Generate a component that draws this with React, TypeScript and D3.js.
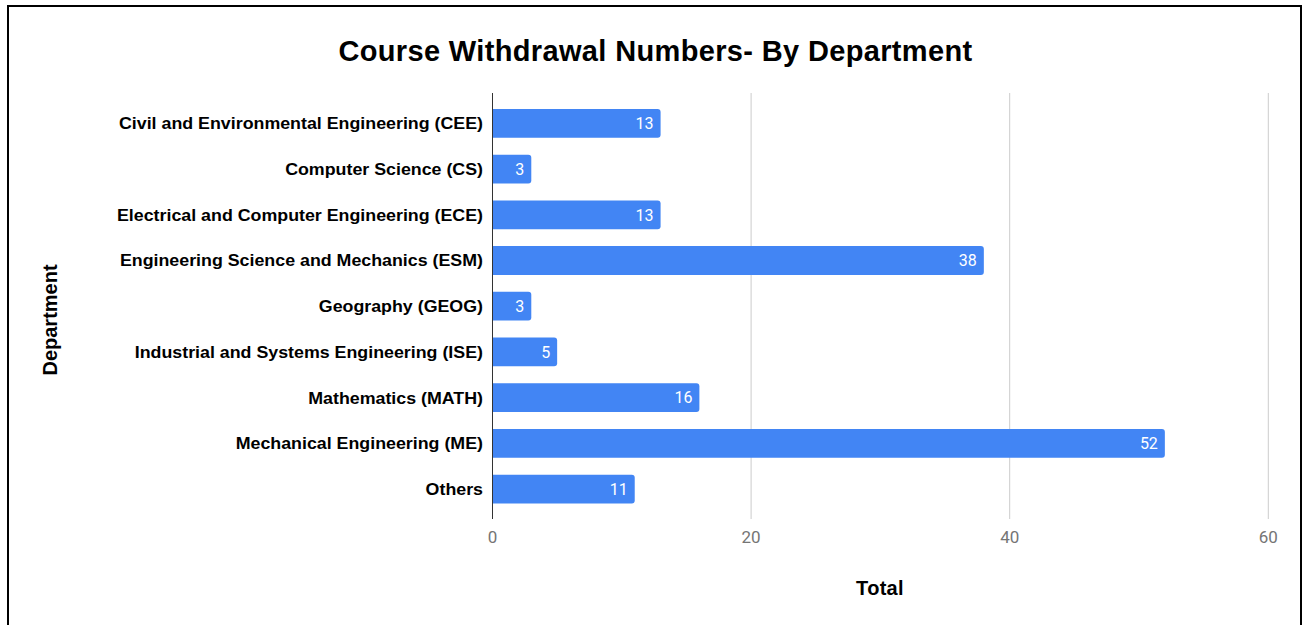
import React from "react";
import * as d3 from "d3";

const categories = [
  "Civil and Environmental Engineering (CEE)",
  "Computer Science (CS)",
  "Electrical and Computer Engineering (ECE)",
  "Engineering Science and Mechanics (ESM)",
  "Geography (GEOG)",
  "Industrial and Systems Engineering (ISE)",
  "Mathematics (MATH)",
  "Mechanical Engineering (ME)",
  "Others",
];
const totals = [13, 3, 13, 38, 3, 5, 16, 52, 11];
const xTicks = [0, 20, 40, 60];

const W = 1304;
const H = 625;

export default function App() {
  const x = d3.scaleLinear().domain([0, 60]).range([492.5, 1268.3]);
  const y = d3.scaleBand<string>().domain(categories).range([100.5, 511.9]).paddingInner(0.37).paddingOuter(0.185);
  const r = 3;
  const barPath = (v: number, top: number, h: number) => {
    const x0 = x(0);
    const x1 = x(v);
    return `M${x0},${top}H${x1 - r}Q${x1},${top} ${x1},${top + r}V${top + h - r}Q${x1},${top + h} ${x1 - r},${top + h}H${x0}Z`;
  };
  return (
    <svg width={W} height={H} style={{ position: "absolute", left: 0, top: 0, display: "block" }} fontFamily="Arial, 'Liberation Sans', sans-serif">
      <rect x={0} y={0} width={W} height={H} fill="#fff" />
      <rect x={8} y={6} width={1293} height={H + 10} fill="#fff" stroke="#000" strokeWidth={2} />
      <text x={655.5} y={61} textAnchor="middle" fontSize={29} fontWeight="bold" fill="#000" letterSpacing={0.35}>
        Course Withdrawal Numbers- By Department
      </text>
      {xTicks.filter((t) => t !== 0).map((t) => (
        <line key={t} x1={x(t)} x2={x(t)} y1={93} y2={519} stroke="#cccccc" strokeWidth={1} />
      ))}
      {categories.map((c, i) => {
        const top = y(c)!;
        const h = y.bandwidth();
        return (
          <g key={c}>
            <path d={barPath(totals[i], top, h)} fill="#4285F4" />
            <text x={x(totals[i]) - 7} y={top + h / 2} dy="0.36em" textAnchor="end" fontSize={16} fill="#fff" fontFamily="Roboto, Arial, sans-serif">
              {totals[i]}
            </text>
            <g transform={`translate(483,${top + h / 2}) scale(1.08,1)`}>
              <text x={0} y={0} dy="0.36em" textAnchor="end" fontSize={16.5} fontWeight="bold" fill="#000">
                {c}
              </text>
            </g>
          </g>
        );
      })}
      <line x1={x(0)} x2={x(0)} y1={93} y2={519} stroke="#333" strokeWidth={1} />
      {xTicks.map((t) => (
        <text key={t} x={x(t)} y={537} dy="0.36em" textAnchor="middle" fontSize={17} fill="#757575" fontFamily="Roboto, Arial, sans-serif">
          {t}
        </text>
      ))}
      <text x={880} y={588} dy="0.36em" textAnchor="middle" fontSize={20} fontWeight="bold" fill="#000" letterSpacing={0.3}>
        Total
      </text>
      <text transform="translate(50,320) rotate(-90)" dy="0.36em" textAnchor="middle" fontSize={20} fontWeight="bold" fill="#000">
        Department
      </text>
    </svg>
  );
}
